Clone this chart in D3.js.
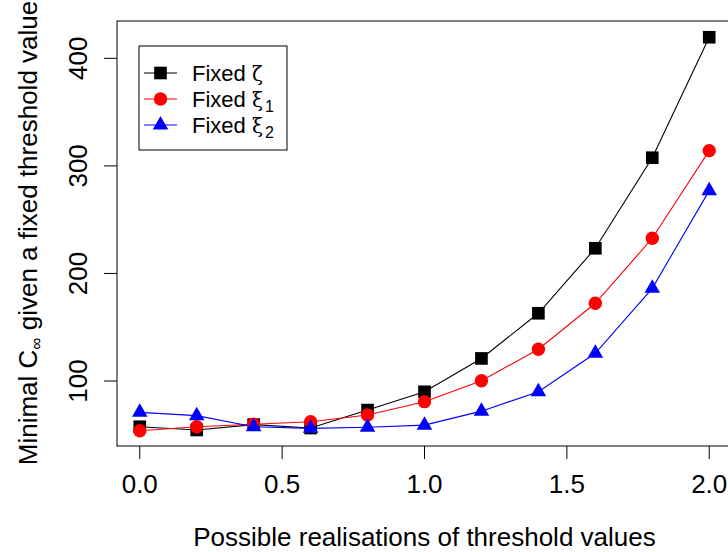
<!DOCTYPE html>
<html>
<head>
<meta charset="utf-8">
<script src="https://cdn.jsdelivr.net/npm/d3@7"></script>
<style>
  body { margin: 0; background: #fff; }
  svg { display: block; font-family: "Liberation Sans", Arial, sans-serif; }
</style>
</head>
<body>
<div id="chart"></div>
<script>
const thresholds = [0.0, 0.2, 0.4, 0.6, 0.8, 1.0, 1.2, 1.4, 1.6, 1.8, 2.0];
const fixedZeta = [57.5, 54.5, 59.5, 56.3, 73, 90, 121, 163, 223.4, 307.6, 419.6];
const fixedXi1 = [53.8, 57.5, 59.8, 62.2, 68.4, 80.8, 100.3, 129.5, 172.3, 232.7, 314.2];
const fixedXi2 = [70.9, 67.8, 57.5, 56, 57, 59, 72, 90, 125.8, 186.2, 277];
const xTicks = [0.0, 0.5, 1.0, 1.5, 2.0];
const yTicks = [100, 200, 300, 400];

const width = 728;
const height = 552;

const svg = d3.select('#chart')
  .append('svg')
  .attr('width', width)
  .attr('height', height);

const x = d3.scaleLinear().domain([-0.08, 2.08]).range([117, 732]);
const y = d3.scaleLinear().domain([39.6, 434.7]).range([446, 21]);

const series = [
  { name: 'ζ', sub: null, values: fixedZeta, color: '#000', symbol: d3.symbolSquare, size: 160 },
  { name: 'ξ', sub: '1', values: fixedXi1, color: '#ff0000', symbol: d3.symbolCircle, size: 140 },
  { name: 'ξ', sub: '2', values: fixedXi2, color: '#0000ff', symbol: d3.symbolTriangle, size: 105 }
];

// plot box
svg.append('rect')
  .attr('x', 117).attr('y', 21)
  .attr('width', 615).attr('height', 425)
  .attr('fill', 'none').attr('stroke', '#000').attr('stroke-width', 1);

// x axis
const xAxis = svg.append('g');
xAxis.selectAll('line.tick')
  .data(xTicks)
  .enter().append('line')
  .attr('class', 'tick')
  .attr('x1', d => x(d)).attr('x2', d => x(d))
  .attr('y1', 446).attr('y2', 459)
  .attr('stroke', '#000');
xAxis.selectAll('text')
  .data(xTicks)
  .enter().append('text')
  .attr('x', d => x(d))
  .attr('y', 493)
  .attr('text-anchor', 'middle')
  .attr('font-size', 26)
  .text(d => d.toFixed(1));

// y axis
const yAxis = svg.append('g');
yAxis.selectAll('line.tick')
  .data(yTicks)
  .enter().append('line')
  .attr('class', 'tick')
  .attr('x1', 104).attr('x2', 117)
  .attr('y1', d => y(d)).attr('y2', d => y(d))
  .attr('stroke', '#000');
yAxis.selectAll('text')
  .data(yTicks)
  .enter().append('text')
  .attr('transform', d => `translate(87,${y(d)}) rotate(-90)`)
  .attr('text-anchor', 'middle')
  .attr('font-size', 26)
  .text(d => d);

// axis titles
svg.append('text')
  .attr('x', (117 + 732) / 2)
  .attr('y', 546)
  .attr('text-anchor', 'middle')
  .attr('font-size', 26)
  .text('Possible realisations of threshold values');

const yTitle = svg.append('text')
  .attr('transform', 'translate(37,233) rotate(-90)')
  .attr('text-anchor', 'middle')
  .attr('font-size', 26);
yTitle.append('tspan').text('Minimal C');
yTitle.append('tspan').attr('font-size', 17).attr('dy', 5).text('∞');
yTitle.append('tspan').attr('dy', -5).text(' given a fixed threshold value');

// lines and points
const line = d3.line().x((d, i) => x(thresholds[i])).y(d => y(d));

series.forEach(s => {
  svg.append('path')
    .datum(s.values)
    .attr('d', line)
    .attr('fill', 'none')
    .attr('stroke', s.color)
    .attr('stroke-width', 1.1);

  svg.append('g')
    .selectAll('path')
    .data(s.values)
    .enter().append('path')
    .attr('transform', (d, i) => `translate(${x(thresholds[i])},${y(d)})`)
    .attr('d', d3.symbol().type(s.symbol).size(s.size))
    .attr('fill', s.color);
});

// legend
const legend = svg.append('g');
legend.append('rect')
  .attr('x', 139).attr('y', 46)
  .attr('width', 148).attr('height', 104)
  .attr('fill', '#fff').attr('stroke', '#000');

series.forEach((s, i) => {
  const ly = 73 + i * 26;
  legend.append('line')
    .attr('x1', 144).attr('x2', 177)
    .attr('y1', ly).attr('y2', ly)
    .attr('stroke', s.color).attr('stroke-width', 1.1);
  legend.append('path')
    .attr('transform', `translate(160.5,${ly})`)
    .attr('d', d3.symbol().type(s.symbol).size(s.size))
    .attr('fill', s.color);
  const t = legend.append('text')
    .attr('x', 192)
    .attr('y', ly + 8)
    .attr('font-size', 22);
  t.append('tspan').text('Fixed ');
  t.append('tspan').attr('font-family', '"DejaVu Serif", serif').attr('font-size', 20).text(s.name);
  if (s.sub) {
    t.append('tspan').attr('font-size', 16).attr('dy', 5).attr('dx', 2).text(s.sub);
  }
});
</script>
</body>
</html>
